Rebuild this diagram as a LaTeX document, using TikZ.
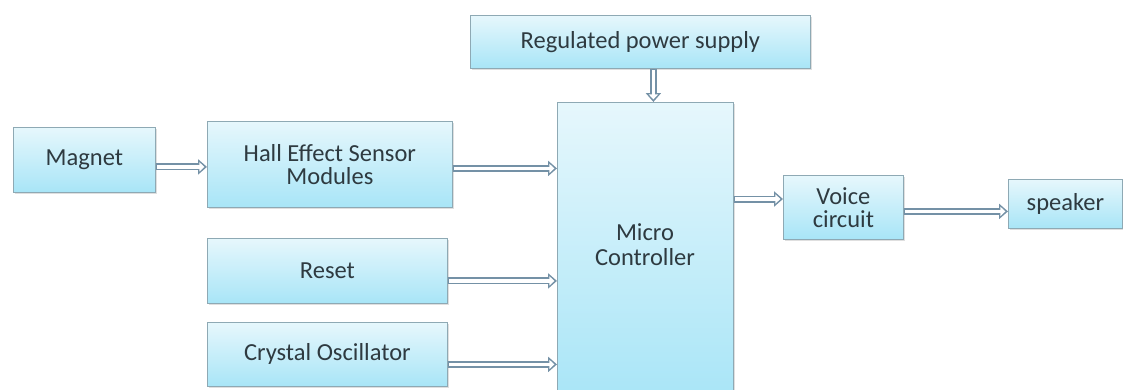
\documentclass[tikz,border=0pt]{standalone}
\usepackage{fontspec}
\setmainfont{Carlito}
\usetikzlibrary{arrows.meta,shadows}
\definecolor{boxtop}{HTML}{E6F7FC}
\definecolor{boxbot}{HTML}{A8E5F7}
\definecolor{boxline}{HTML}{8EA9B4}
\definecolor{arrline}{HTML}{7491A6}
\definecolor{txt}{HTML}{2E3A40}
\tikzset{
  blk/.style={draw=boxline, line width=0.8pt, top color=boxtop, bottom color=boxbot,
    text=txt, align=center, inner sep=0pt, anchor=north west,
    font=\fontsize{24.5}{23}\selectfont,
    drop shadow={opacity=0.25, shadow xshift=1.5pt, shadow yshift=-1.5pt}},
  dar/.style={draw=arrline, line width=7pt, -{Triangle[length=9pt,width=15pt]},
    postaction={draw=white, line width=3.2pt, -{Triangle[length=5pt,width=9pt]},
      shorten >=2.6pt, shorten <=1.6pt}}
}
\begin{document}
\begin{tikzpicture}[x=1pt,y=-1pt]
\useasboundingbox (0,0) rectangle (1123,389);
\node[blk, minimum width=142pt, minimum height=65pt] (mag) at (13,127) {Magnet};
\node[blk, minimum width=245pt, minimum height=86pt] (hall) at (207,121) {Hall Effect Sensor\\Modules};
\node[blk, minimum width=340pt, minimum height=53pt] (rps) at (470,15) {Regulated power supply};
\node[blk, minimum width=176pt, minimum height=300pt] (mc) at (557,102) {};
\node[txt, align=center, font=\fontsize{24.5}{25}\selectfont] (mct) at (645,245) {Micro\\Controller};
\node[blk, minimum width=120pt, minimum height=64pt] (voice) at (783,175) {Voice\\circuit};
\node[blk, minimum width=114pt, minimum height=49pt] (spk) at (1008,179) {speaker};
\node[blk, minimum width=240pt, minimum height=65pt] (reset) at (207,238) {Reset};
\node[blk, minimum width=240pt, minimum height=64pt] (xtal) at (207,322) {Crystal Oscillator};
\draw[dar] ([yshift=-7pt]mag.east) -- ([yshift=-7pt]mag.east -| hall.west);
\draw[dar] ([yshift=-4pt]hall.east) -- ([yshift=-4pt]hall.east -| mc.west);
\draw[dar] ([xshift=13pt]rps.south) -- ([xshift=13pt]rps.south |- mc.north);
\draw[dar] ([yshift=-10pt]reset.east) -- ([yshift=-10pt]reset.east -| mc.west);
\draw[dar] ([yshift=-10pt]xtal.east) -- ([yshift=-10pt]xtal.east -| mc.west);
\draw[dar] (mc.east |- 0,199) -- (voice.west |- 0,199);
\draw[dar] ([yshift=-4pt]voice.east) -- ([yshift=-4pt]voice.east -| spk.west);
\end{tikzpicture}
\end{document}
